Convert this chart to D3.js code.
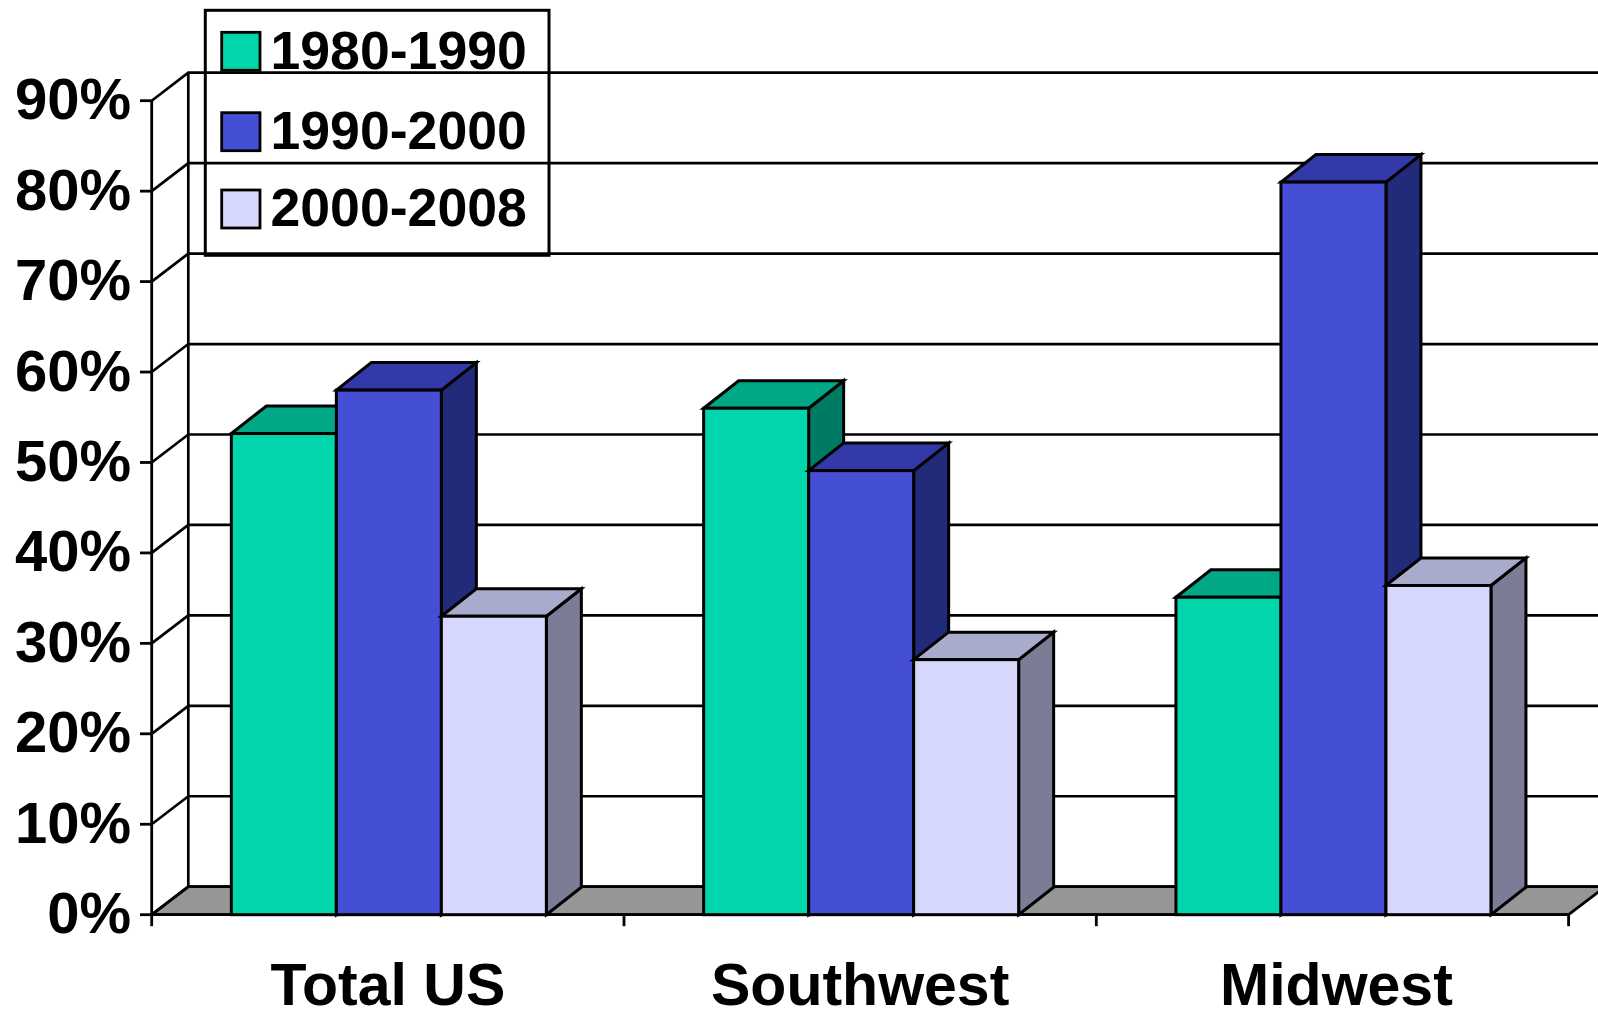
<!DOCTYPE html>
<html>
<head>
<meta charset="utf-8">
<script src="https://cdn.jsdelivr.net/npm/d3@7"></script>
<style>
html,body{margin:0;padding:0;background:#fff;overflow:hidden}
svg{display:block}
text{font-family:"Liberation Sans",Arial,sans-serif;font-weight:700;fill:#000}
</style>
</head>
<body>
<svg id="chart" width="1598" height="1011"></svg>
<script>
const categories = ["Total US", "Southwest", "Midwest"];
const seriesNames = ["1980-1990", "1990-2000", "2000-2008"];
const values1980 = [53.2, 56.0, 35.1];
const values1990 = [58.0, 49.1, 81.0];
const values2000 = [33.0, 28.2, 36.4];
const yTicks = [0, 10, 20, 30, 40, 50, 60, 70, 80, 90];
const frontColors = ["#00d5ab", "#454fd6", "#d5d7fc"];
const topColors = ["#00a886", "#3339a8", "#a8abcb"];
const sideColors = ["#007b63", "#222a7a", "#7b7c95"];
const seriesValues = [values1980, values1990, values2000];

const svg = d3.select("#chart");
const left = 151.7, right = 1568.6, base = 914.7, top90 = 100.7;
const wallDx = 36.6, wallDy = -28, barDx = 35, barDy = -27.5, barW = 105;

const y = d3.scaleLinear().domain([0, 90]).range([base, top90]);
const x0 = d3.scaleBand().domain(categories).range([left + 1, right + 1]);
const x1 = d3.scaleBand().domain(seriesNames.map((d, i) => i))
  .range([0, barW * 3]);
const xEdge = d3.scaleLinear().domain([0, 3]).range([left, right]);
const poly = d3.line();

// floor
svg.append("path")
  .attr("d", poly([[left, base], [left + wallDx, base + wallDy], [right + wallDx, base + wallDy], [right, base]]) + "Z")
  .attr("fill", "#969696").attr("stroke", "#000").attr("stroke-width", 2.8);

// back wall grid and side-wall diagonals
const grid = svg.append("g").attr("fill", "none").attr("stroke", "#000").attr("stroke-width", 2.7);
yTicks.forEach(t => {
  grid.append("path").attr("d", poly([[left, y(t)], [left + wallDx, y(t) + wallDy], [1598, y(t) + wallDy]]));
});
grid.append("line").attr("x1", left + wallDx).attr("x2", left + wallDx)
  .attr("y1", y(90) + wallDy).attr("y2", y(0) + wallDy);

// axes
const yAxis = svg.append("g").attr("transform", `translate(${left},0)`)
  .call(d3.axisLeft(y).tickValues(yTicks).tickFormat(d => d + "%").tickSize(11.7).tickSizeOuter(0).tickPadding(9).offset(0));
yAxis.selectAll("text").attr("font-size", 58).attr("dy", "0.32em");
const xTicks = svg.append("g").attr("transform", `translate(0,${base})`)
  .call(d3.axisBottom(xEdge).tickValues([0, 1, 2, 3]).tickFormat("").tickSize(11.5).tickSizeOuter(0).offset(0));
const xLabels = svg.append("g").attr("transform", `translate(0,${base})`)
  .call(d3.axisBottom(x0).tickSize(0).tickPadding(0).offset(0));
xLabels.select(".domain").remove();
xLabels.selectAll("text").attr("font-size", 59).attr("dy", 0).attr("y", 90)
  .attr("dx", (d, i) => i === 2 ? 3 : -1);
svg.selectAll(".domain, .tick line").attr("stroke", "#000").attr("stroke-width", 2.8);

// 3D bars
const barsLayer = svg.append("g").attr("stroke", "#000").attr("stroke-width", 3).attr("stroke-linejoin", "miter");
categories.forEach((cat, c) => {
  const gx = x0(cat) + (x0.bandwidth() - barW * 3) / 2;
  seriesValues.forEach((vals, s) => {
    const xa = gx + x1(s), xb = xa + barW, yt = y(vals[c]);
    barsLayer.append("path").attr("fill", sideColors[s])
      .attr("d", poly([[xb, base], [xb + barDx, base + barDy], [xb + barDx, yt + barDy], [xb, yt]]) + "Z");
    barsLayer.append("path").attr("fill", topColors[s])
      .attr("d", poly([[xa, yt], [xa + barDx, yt + barDy], [xb + barDx, yt + barDy], [xb, yt]]) + "Z");
    barsLayer.append("rect").attr("fill", frontColors[s])
      .attr("x", xa).attr("y", yt).attr("width", barW).attr("height", base - yt);
  });
});

// legend
const legend = svg.append("g");
legend.append("rect").attr("x", 205.3).attr("y", 10.3).attr("width", 343.7).attr("height", 245)
  .attr("fill", "none").attr("stroke", "#000").attr("stroke-width", 3);
const swatchY = [32.3, 112.7, 190];
const textY = [68.5, 149, 226];
seriesNames.forEach((name, i) => {
  legend.append("rect").attr("x", 221.7).attr("y", swatchY[i]).attr("width", 38.3).attr("height", 38)
    .attr("fill", frontColors[i]).attr("stroke", "#000").attr("stroke-width", 2.8);
  legend.append("text").attr("x", 270.5).attr("y", textY[i]).attr("font-size", 53.6).text(name);
});
</script>
</body>
</html>
